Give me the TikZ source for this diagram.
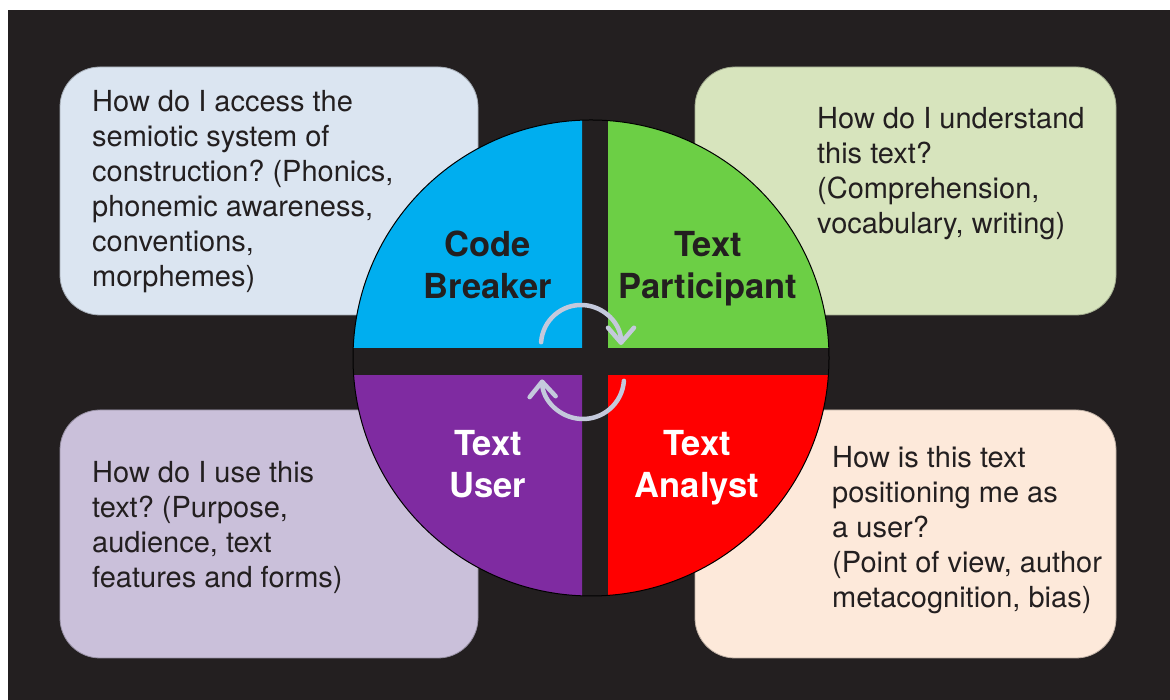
\documentclass[tikz,border=0pt]{standalone}
\usepackage{fontspec}
\setmainfont{TeX Gyre Heros}
\usetikzlibrary{arrows.meta}
\frenchspacing

\definecolor{bgdark}{HTML}{231F20}
\definecolor{boxblue}{HTML}{DBE5F1}
\definecolor{boxgreen}{HTML}{D7E4BD}
\definecolor{boxlilac}{HTML}{CAC0DA}
\definecolor{boxpeach}{HTML}{FDE9DA}
\definecolor{codeblue}{HTML}{00AEEF}
\definecolor{partgreen}{HTML}{6CCF45}
\definecolor{userpurple}{HTML}{7F2BA1}
\definecolor{analystred}{HTML}{FF0000}
\definecolor{cycletint}{HTML}{C4C9DC}

\tikzset{
    infobox/.style={rounded corners=40pt, line width=0.8pt},
    infotext/.style={anchor=base west, align=left, inner sep=0pt, text=bgdark,
        font=\fontsize{29}{35}\selectfont},
    rolename/.style={anchor=base, align=center, inner sep=0pt,
        font=\bfseries\fontsize{34.5}{42}\selectfont},
    cyclearrow/.style={line width=4.5pt, cycletint, line cap=round,
        -{Straight Barb[length=15pt, width=26pt, line cap=round, line join=round]}}
}

\begin{document}
\begin{tikzpicture}[x=1pt, y=1pt]
        \useasboundingbox (0, 0) rectangle (1170, 700);
        \fill[white] (0, 0) rectangle (1170, 700);
        \fill[bgdark] (8, 0) rectangle (1170, 690);

        % question boxes
        \draw[infobox, fill=boxblue, draw=boxblue!75!black] (60, 385) rectangle (478, 633);
        \draw[infobox, fill=boxgreen, draw=boxgreen!75!black] (695, 385) rectangle (1116, 633);
        \draw[infobox, fill=boxlilac, draw=boxlilac!75!black] (60, 42) rectangle (478, 290);
        \draw[infobox, fill=boxpeach, draw=boxpeach!75!black] (695, 42) rectangle (1116, 290);

        % (base = baseline of the last line)
        \node[infotext] (breakertext) at (92, 413) {How do I access the\\semiotic system of\\construction? (Phonics,\\phonemic awareness,\\conventions,\\morphemes)};
        \node[infotext] (participanttext) at (817, 466) {How do I understand\\this text?\\(Comprehension,\\vocabulary, writing)};
        \node[infotext] (usertext) at (92, 112) {How do I use this\\text? (Purpose,\\audience, text\\features and forms)};
        \node[infotext] (analysttext) at (832, 92) {How is this text\\positioning me as\\a user?\\(Point of view, author\\metacognition, bias)};

        % the four quadrants
        \coordinate (hub) at (591, 342);
        \begin{scope}
            \clip (300, 352) rectangle (582, 650);
            \fill[codeblue] (hub) circle[radius=238];
        \end{scope}
        \begin{scope}
            \clip (608, 352) rectangle (900, 650);
            \fill[partgreen] (hub) circle[radius=238];
        \end{scope}
        \begin{scope}
            \clip (300, 0) rectangle (582, 324);
            \fill[userpurple] (hub) circle[radius=238];
        \end{scope}
        \begin{scope}
            \clip (608, 0) rectangle (900, 324);
            \fill[analystred] (hub) circle[radius=238];
        \end{scope}
        \draw[line width=1pt, black] (hub) circle[radius=238];

        \node[rolename, text=bgdark] (breaker) at (488, 401) {Code\\Breaker};
        \node[rolename, text=bgdark] (participant) at (708, 401) {Text\\Participant};
        \node[rolename, text=white] (user) at (488, 202) {Text\\User};
        \node[rolename, text=white] (analyst) at (697, 202) {Text\\Analyst};

        % cycle arrows
        \coordinate (upperturn) at (581, 355);
        \coordinate (lowerturn) at (583, 322);
        \draw[cyclearrow] (upperturn) ++(176:40) arc[start angle=176, end angle=0, radius=40];
        \draw[cyclearrow] (lowerturn) ++(-4:41) arc[start angle=-4, end angle=-178, radius=41];

    \end{tikzpicture}
\end{document}
